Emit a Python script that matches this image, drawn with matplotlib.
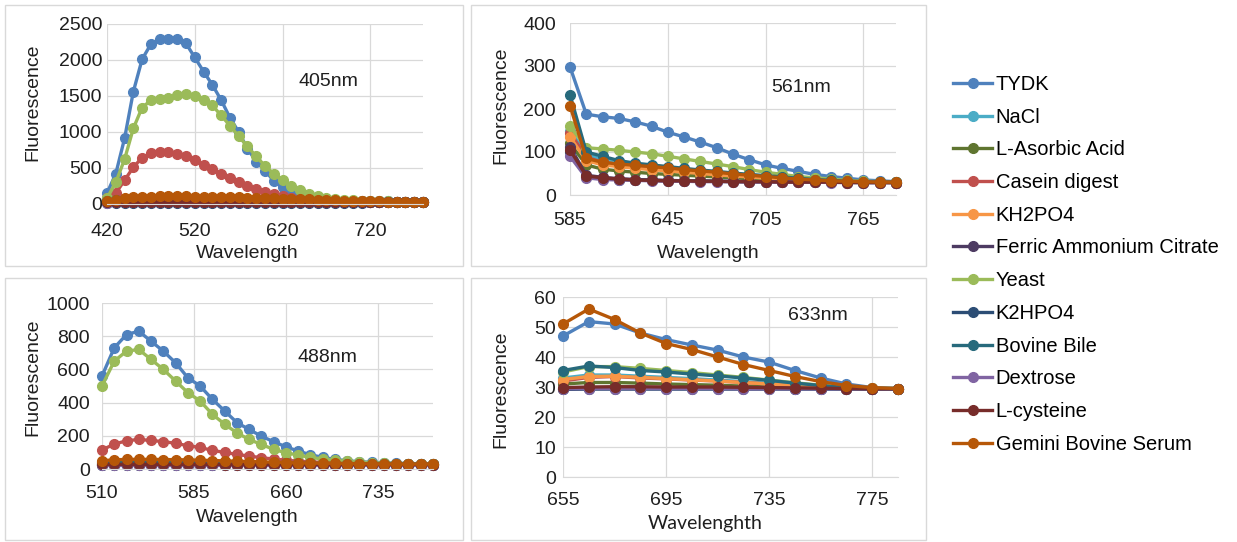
import matplotlib
matplotlib.use("Agg")
import matplotlib.pyplot as plt
from matplotlib.patches import Rectangle

plt.rcParams['font.family'] = ['Liberation Sans', 'DejaVu Sans']

W, H = 1237, 542

names = ['TYDK', 'NaCl', 'L-Asorbic Acid', 'Casein digest', 'KH2PO4',
         'Ferric Ammonium Citrate', 'Yeast', 'K2HPO4', 'Bovine Bile',
         'Dextrose', 'L-cysteine', 'Gemini Bovine Serum']
colors = ['#4F81BD', '#4BACC6', '#5F7530', '#C0504D', '#F79646', '#4D3B62',
          '#9BBB59', '#2C4D75', '#276A7C', '#8064A2', '#772C2A', '#B65708']

# 405 nm excitation, 420..780 nm
wl405 = list(range(420, 781, 10))
f405 = [
    [150, 420, 910, 1560, 2010, 2220, 2285, 2290, 2285, 2230, 2035, 1840, 1655, 1445, 1200, 1000, 770, 590, 465, 320,
     235, 175, 130, 105, 80, 65, 55, 48, 43, 40, 38, 36, 35, 34, 33, 32, 31],
    [35, 45, 55, 60, 62, 63, 63, 62, 60, 58, 56, 54, 52, 50, 48, 46, 44, 42, 40, 38, 37, 36, 35, 34, 33, 32, 31, 30,
     30, 29, 29, 28, 28, 28, 27, 27, 27],
    [30, 38, 45, 50, 52, 53, 53, 52, 51, 50, 48, 47, 45, 44, 42, 41, 40, 38, 37, 36, 35, 34, 33, 32, 31, 30, 30, 29,
     29, 28, 28, 28, 27, 27, 27, 26, 26],
    [90, 150, 330, 510, 645, 705, 725, 720, 700, 665, 605, 545, 480, 415, 355, 300, 250, 205, 165, 135, 110, 90, 75,
     63, 55, 48, 43, 40, 37, 35, 34, 33, 32, 31, 30, 30, 29],
    [32, 42, 50, 55, 57, 58, 58, 57, 56, 54, 52, 50, 49, 47, 45, 44, 42, 41, 39, 38, 37, 36, 35, 34, 33, 32, 31, 30,
     30, 29, 29, 28, 28, 28, 27, 27, 27],
    [22, 25, 27, 28, 28, 28, 28, 28, 28, 27, 27, 27, 27, 26, 26, 26, 26, 26, 25, 25, 25, 25, 25, 25, 25, 25, 24, 24,
     24, 24, 24, 24, 24, 24, 24, 24, 24],
    [80, 300, 620, 1050, 1340, 1440, 1455, 1475, 1510, 1530, 1495, 1440, 1370, 1230, 1090, 940, 800, 660, 530, 420,
     330, 250, 190, 145, 115, 90, 72, 60, 52, 46, 42, 39, 36, 34, 33, 32, 31],
    [15, 17, 18, 18, 18, 18, 18, 18, 18, 18, 18, 18, 18, 18, 18, 18, 18, 18, 19, 19, 19, 19, 19, 20, 20, 20, 20, 20,
     20, 20, 21, 21, 21, 21, 21, 21, 21],
    [40, 55, 68, 75, 78, 80, 80, 79, 78, 76, 74, 72, 70, 67, 64, 61, 58, 55, 52, 49, 46, 44, 42, 40, 38, 36, 35, 34,
     33, 32, 31, 30, 30, 29, 29, 28, 28],
    [20, 23, 25, 26, 26, 26, 26, 26, 26, 26, 26, 25, 25, 25, 25, 25, 25, 25, 25, 25, 25, 25, 25, 24, 24, 24, 24, 24,
     24, 24, 24, 24, 24, 24, 24, 24, 24],
    [25, 28, 30, 31, 31, 31, 31, 31, 30, 30, 30, 30, 29, 29, 29, 29, 28, 28, 28, 28, 28, 27, 27, 27, 27, 27, 27, 26,
     26, 26, 26, 26, 26, 26, 26, 26, 26],
    [40, 60, 80, 92, 98, 102, 105, 106, 106, 105, 104, 102, 100, 97, 94, 91, 88, 85, 82, 78, 75, 71, 67, 63, 59, 55,
     51, 48, 45, 42, 39, 36, 34, 32, 30, 29, 28],
]

# 561 nm excitation, 585..785 nm
wl561 = list(range(585, 786, 10))
f561 = [
    [298, 188, 182, 178, 170, 160, 146, 135, 123, 110, 95, 82, 70, 62, 55, 48, 43, 39, 35, 33, 31],
    [150, 95, 82, 76, 71, 67, 63, 59, 56, 52, 49, 46, 43, 40, 37, 35, 33, 32, 31, 30, 30],
    [120, 70, 60, 56, 53, 50, 48, 46, 44, 42, 40, 38, 36, 35, 34, 33, 32, 31, 30, 30, 29],
    [145, 88, 76, 71, 67, 63, 60, 56, 53, 50, 47, 44, 41, 38, 36, 34, 32, 31, 30, 30, 29],
    [135, 80, 70, 66, 62, 59, 56, 53, 50, 47, 44, 42, 39, 37, 35, 33, 32, 31, 30, 29, 29],
    [112, 46, 41, 38, 36, 35, 34, 33, 33, 32, 32, 31, 31, 31, 30, 30, 30, 30, 29, 29, 29],
    [160, 110, 107, 104, 100, 96, 90, 84, 78, 72, 66, 59, 53, 48, 43, 40, 37, 34, 32, 31, 30],
    [100, 42, 38, 36, 35, 34, 33, 33, 32, 32, 31, 31, 31, 30, 30, 30, 30, 29, 29, 29, 29],
    [233, 100, 90, 80, 74, 70, 66, 62, 58, 55, 51, 48, 45, 42, 39, 36, 34, 32, 31, 30, 30],
    [90, 40, 36, 35, 34, 33, 32, 32, 31, 31, 31, 30, 30, 30, 30, 30, 29, 29, 29, 29, 29],
    [105, 44, 40, 37, 35, 34, 33, 33, 32, 32, 31, 31, 31, 30, 30, 30, 30, 29, 29, 29, 29],
    [208, 85, 76, 72, 69, 66, 63, 59, 56, 53, 49, 46, 43, 40, 37, 35, 33, 32, 31, 30, 30],
]

# 488 nm excitation, 510..780 nm
wl488 = list(range(510, 781, 10))
f488 = [
    [560, 730, 810, 830, 770, 710, 640, 550, 500, 420, 350, 280, 238, 198, 164, 134, 108, 86, 70, 58, 50, 44, 40, 37,
     35, 33, 32, 31],
    [35, 37, 38, 38, 38, 37, 37, 36, 36, 35, 35, 34, 34, 33, 33, 32, 32, 31, 31, 31, 30, 30, 30, 30, 29, 29, 29, 29],
    [30, 31, 32, 32, 32, 32, 31, 31, 31, 31, 30, 30, 30, 30, 30, 29, 29, 29, 29, 29, 29, 29, 28, 28, 28, 28, 28, 28],
    [115, 150, 170, 178, 172, 165, 155, 140, 130, 112, 100, 88, 78, 68, 60, 53, 47, 43, 40, 37, 35, 33, 32, 31, 30,
     30, 29, 29],
    [38, 41, 43, 43, 43, 42, 42, 41, 40, 39, 38, 37, 36, 35, 34, 33, 33, 32, 31, 31, 30, 30, 30, 29, 29, 29, 29, 29],
    [27, 27, 27, 27, 27, 27, 27, 27, 26, 26, 26, 26, 26, 26, 26, 26, 26, 26, 26, 26, 26, 26, 26, 26, 26, 26, 26, 26],
    [500, 650, 710, 720, 660, 600, 530, 460, 410, 330, 270, 218, 178, 148, 118, 98, 84, 70, 60, 52, 46, 41, 38, 35,
     33, 32, 31, 30],
    [24, 24, 24, 24, 24, 24, 24, 24, 24, 24, 24, 25, 25, 25, 25, 25, 25, 25, 25, 25, 25, 25, 25, 25, 25, 26, 26, 26],
    [40, 44, 46, 46, 46, 45, 45, 44, 43, 42, 41, 40, 39, 38, 37, 36, 35, 34, 33, 33, 32, 31, 31, 30, 30, 30, 29, 29],
    [25, 25, 25, 25, 25, 25, 25, 25, 25, 25, 25, 25, 25, 25, 25, 25, 25, 25, 25, 25, 25, 25, 25, 25, 25, 25, 25, 25],
    [28, 28, 28, 28, 28, 28, 28, 28, 28, 28, 27, 27, 27, 27, 27, 27, 27, 27, 27, 27, 27, 27, 27, 27, 27, 27, 27, 27],
    [50, 55, 58, 58, 58, 57, 56, 55, 53, 51, 49, 47, 45, 43, 41, 39, 37, 36, 35, 34, 33, 32, 31, 31, 30, 30, 30, 30],
]

# 633 nm excitation, 655..785 nm
wl633 = list(range(655, 786, 10))
f633 = [
    [47, 51.8, 51, 48, 45.8, 44, 42.3, 40, 38.3, 35.5, 33, 31, 29.8, 29.5],
    [33, 34, 34, 33.6, 33.2, 32.8, 32.3, 31.8, 31.2, 30.7, 30.2, 29.8, 29.5, 29.4],
    [31, 31.5, 31.5, 31.3, 31, 30.8, 30.6, 30.3, 30, 29.8, 29.6, 29.5, 29.4, 29.4],
    [32, 33.2, 33.5, 33, 32.7, 32.3, 32, 31.5, 31, 30.5, 30, 29.7, 29.5, 29.4],
    [32.5, 33.5, 33.6, 33.2, 32.8, 32.4, 32, 31.5, 31, 30.5, 30, 29.7, 29.5, 29.4],
    [29.5, 29.6, 29.7, 29.7, 29.7, 29.7, 29.6, 29.6, 29.6, 29.5, 29.5, 29.5, 29.4, 29.4],
    [35, 36.8, 36.8, 36.2, 35.5, 34.8, 34, 33.2, 32.3, 31.4, 30.6, 29.9, 29.6, 29.5],
    [29.2, 29.3, 29.3, 29.3, 29.3, 29.3, 29.3, 29.3, 29.3, 29.3, 29.3, 29.3, 29.3, 29.3],
    [35.5, 37, 36.5, 35.5, 35, 34.3, 33.7, 33, 32.2, 31.3, 30.5, 29.8, 29.5, 29.5],
    [29.4, 29.5, 29.5, 29.5, 29.5, 29.5, 29.5, 29.4, 29.4, 29.4, 29.4, 29.4, 29.4, 29.4],
    [29.8, 30, 30.1, 30.1, 30, 30, 30, 29.9, 29.8, 29.7, 29.6, 29.5, 29.4, 29.4],
    [51, 56, 52.5, 48, 44.5, 42.5, 40, 37.5, 35.5, 33.5, 31.8, 30.5, 29.8, 29.5],
]


def fx(x):
    return x / W


def fy(y):
    return 1 - y / H


fig = plt.figure(figsize=(W / 100, H / 100), dpi=100)

# chart-area frames
for (x0, y0, x1, y1) in [(5, 5, 463, 266), (471, 5, 926, 266),
                         (5, 278, 463, 540), (471, 278, 926, 540)]:
    fig.add_artist(Rectangle((fx(x0), fy(y1)), fx(x1 - x0), (y1 - y0) / H,
                             transform=fig.transFigure, fill=False,
                             edgecolor='#D9D9D9', linewidth=1))

panels = [
    # data, wl, px box (l, t, r, b), yticks, xticks, label, label pos, ypad, xpad
    (f405, wl405, (107, 24, 423, 204), range(0, 2501, 500), [420, 520, 620, 720],
     '405nm', (328, 82), 3.6, 13.5),
    (f561, wl561, (570, 23, 896, 195), range(0, 401, 100), [585, 645, 705, 765],
     '561nm', (801, 88), 10, 12),
    (f488, wl488, (102, 303, 433, 469), range(0, 1001, 200), [510, 585, 660, 735],
     '488nm', (327, 358), 8.6, 11.5),
    (f633, wl633, (563, 297, 898, 477), range(0, 61, 10), [655, 695, 735, 775],
     '633nm', (818, 315), 5, 10.8),
]

axes = []
for data, wl, (l, t, r, b), yt, xt, lab, (lx, ly), ypad, xpad in panels:
    ax = fig.add_axes([fx(l), fy(b), fx(r - l), (b - t) / H])
    for vals, c in zip(data, colors):
        ax.plot(wl, vals, color=c, lw=2.4, marker='o', ms=7,
                mec=c, mfc=c, clip_on=False)
    ax.set_xlim(wl[0], wl[-1])
    ax.set_ylim(yt[0], yt[-1])
    ax.set_yticks(list(yt))
    ax.set_xticks(xt)
    ax.grid(True, color='#D9D9D9', lw=0.9)
    ax.set_axisbelow(True)
    for s in ['top', 'right', 'left']:
        ax.spines[s].set_visible(False)
    ax.spines['bottom'].set_color('#D9D9D9')
    ax.tick_params(length=0, labelsize=14, colors='#1F1F1F')
    ax.tick_params(axis='y', pad=ypad)
    ax.tick_params(axis='x', pad=xpad)
    fig.text(fx(lx), fy(ly), lab, ha='center', va='center', fontsize=14, color='#1F1F1F')
    axes.append(ax)

# axis titles
for (x, y) in [(33, 102), (501, 105), (33, 377), (501, 389)]:
    fig.text(fx(x), fy(y), 'Fluorescence', rotation=90, ha='center', va='center',
             fontsize=14, color='#1F1F1F')
for (x, y) in [(247, 253), (708, 253), (247, 518)]:
    fig.text(fx(x), fy(y), 'Wavelength', ha='center', va='center',
             fontsize=14, color='#1F1F1F')
fig.text(fx(705), fy(523), 'Wavelenghth', ha='center', va='center',
         fontsize=14, color='#1F1F1F', family=['Lato', 'DejaVu Sans'])

handles = axes[0].get_lines()
fig.legend(handles, names, loc='upper left', bbox_to_anchor=(fx(953), fy(75)),
           frameon=False, fontsize=14.5, handlelength=1.94, handletextpad=0.18,
           labelspacing=0.68, borderpad=0, borderaxespad=0)

plt.savefig('out.png', dpi=100)
